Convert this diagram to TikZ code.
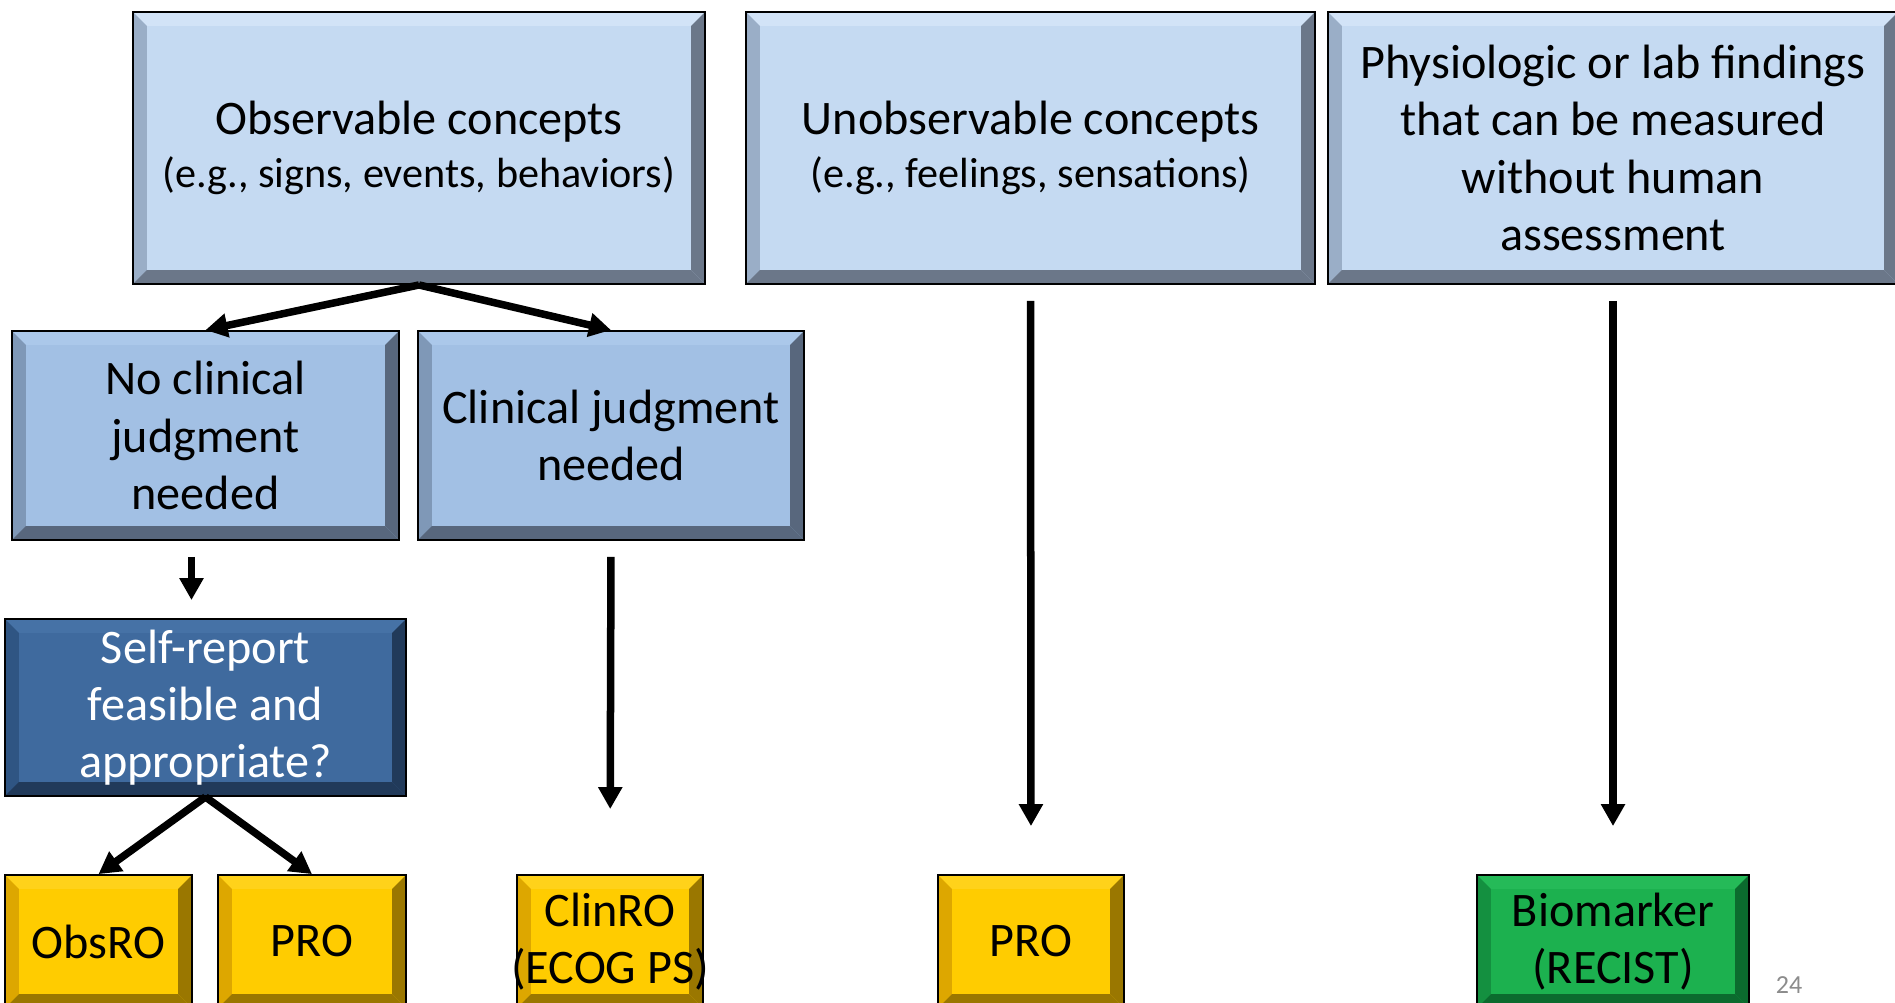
\documentclass[tikz,border=0pt]{standalone}
\usepackage{fontspec}
\setmainfont{Carlito}
\usetikzlibrary{arrows.meta}
\definecolor{lbF}{HTML}{C5DAF2}\definecolor{lbT}{HTML}{D2E3F7}\definecolor{lbL}{HTML}{9AAEC7}\definecolor{lbD}{HTML}{6B7789}
\definecolor{mbF}{HTML}{A2C0E4}\definecolor{mbT}{HTML}{ABC8EA}\definecolor{mbL}{HTML}{7F98B7}\definecolor{mbD}{HTML}{58677D}
\definecolor{dbF}{HTML}{3F6A9E}\definecolor{dbT}{HTML}{4672A6}\definecolor{dbL}{HTML}{2F5583}\definecolor{dbD}{HTML}{213A5A}
\definecolor{yF}{HTML}{FFCC00}\definecolor{yT}{HTML}{FFD21A}\definecolor{yL}{HTML}{DDA700}\definecolor{yD}{HTML}{9A7700}
\definecolor{gF}{HTML}{1CB14F}\definecolor{gT}{HTML}{25BA58}\definecolor{gL}{HTML}{149040}\definecolor{gD}{HTML}{0B6B2E}
\tikzset{bev/.style n args={4}{draw=black,line width=0.5pt,fill=#1,path picture={
 \path (path picture bounding box.south west) coordinate (p1) (path picture bounding box.north west) coordinate (p2) (path picture bounding box.north east) coordinate (p3) (path picture bounding box.south east) coordinate (p4);
 \path ([shift={(.14cm,.14cm)}]p1) coordinate (q1) ([shift={(.14cm,-.14cm)}]p2) coordinate (q2) ([shift={(-.14cm,-.14cm)}]p3) coordinate (q3) ([shift={(-.14cm,.14cm)}]p4) coordinate (q4);
 \fill[#2] (p2)--(p3)--(q3)--(q2)--cycle; \fill[#3] (p1)--(p2)--(q2)--(q1)--cycle; \fill[#4] (p3)--(p4)--(q4)--(q3)--cycle; \fill[#4] (p1)--(p4)--(q4)--(q1)--cycle;}},
 box/.style={align=center,inner sep=0pt,font=\fontsize{13.7}{16.3}\selectfont},
 lb/.style={box,bev={lbF}{lbT}{lbL}{lbD},minimum height=2.72cm},
 mb/.style={box,bev={mbF}{mbT}{mbL}{mbD},minimum height=2.09cm},
 yb/.style={box,bev={yF}{yT}{yL}{yD},minimum height=1.33cm},
 arr/.style={-{Triangle[length=.22cm,width=.23cm]},line width=.075cm}}
\begin{document}
\begin{tikzpicture}[x=.01cm,y=-.01cm]
\fill[white] (0,0) rectangle (1895,1002);\clip (0,0) rectangle (1895,1002);
\node[lb,minimum width=5.72cm] (obs) at (419,148) {Observable concepts\\[-1.4pt]{\fontsize{12}{15}\selectfont(e.g., signs, events, behaviors)}};
\node[lb,minimum width=5.69cm] (unobs) at (1030.5,148) {Unobservable concepts\\[-1.4pt]{\fontsize{12}{15}\selectfont(e.g., feelings, sensations)}};
\node[lb,minimum width=5.70cm] (phys) at (1613,148) {Physiologic or lab findings\\that can be measured\\without human\\assessment};
\node[mb,minimum width=3.87cm] (nojud) at (205.5,435.5) {No clinical\\judgment\\needed};
\node[mb,minimum width=3.86cm] (clin) at (611,435.5) {Clinical judgment\\needed};
\node[box,bev={dbF}{dbT}{dbL}{dbD},minimum width=4.01cm,minimum height=1.77cm,text=white] (selfrep) at (205.5,707.5) {Self-report\\feasible and\\appropriate?};
\node[yb,minimum width=1.87cm] (obsro) at (98.5,941.5) {ObsRO};
\node[yb,minimum width=1.88cm] (pro1) at (312,941.5) {PRO};
\node[yb,minimum width=1.86cm] (clinro) at (610,941.5) {ClinRO\\\makebox[0pt]{(ECOG PS)}};
\node[yb,minimum width=1.86cm] (pro2) at (1031,941.5) {PRO};
\node[box,bev={gF}{gT}{gL}{gD},minimum width=2.72cm,minimum height=1.33cm] (bio) at (1613,941.5) {Biomarker\\(RECIST)};
\node[text=black!45,font=\fontsize{7.4}{9}\selectfont] (pg) at (1789,985) {24};
\draw[arr] (obs.south)--(nojud.north);\draw[arr] (obs.south)--(clin.north);
\draw[arr,shorten <=.16cm,shorten >=.18cm] ([xshift=-.14cm]nojud.south)--([xshift=-.14cm]selfrep.north);
\draw[arr,shorten <=.16cm,shorten >=.65cm] (clin.south)--(clinro.north);
\draw[arr,shorten <=.16cm,shorten >=.48cm] (unobs.south)--(pro2.north);
\draw[arr,shorten <=.16cm,shorten >=.48cm] (phys.south)--(bio.north);
\draw[arr] (selfrep.south)--(obsro.north);\draw[arr] (selfrep.south)--(pro1.north);
\end{tikzpicture}
\end{document}
